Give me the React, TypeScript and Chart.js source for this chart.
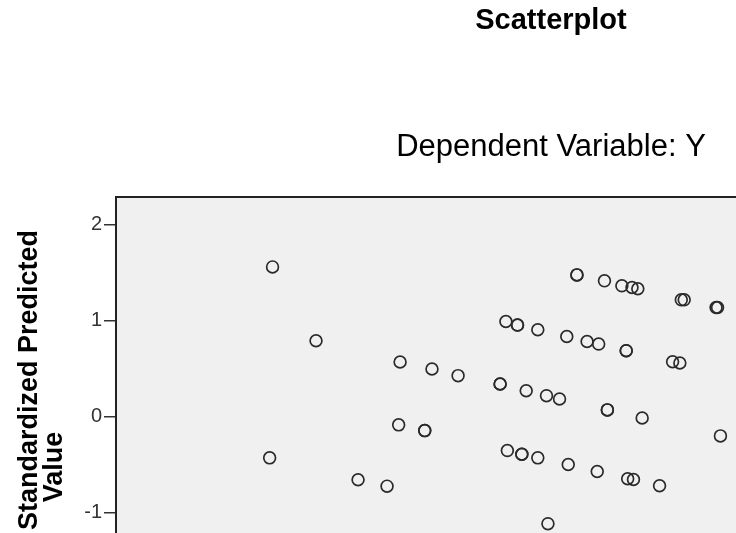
import React, { useEffect, useRef } from "react";
import { Chart, registerables } from "chart.js";

Chart.register(...registerables);

// Values (x in arbitrary axis units; y = Standardized Predicted Value)
const xValues = [
  -1.92, -1.62, -1.04, -0.82, -0.64, -0.35, -0.35, -1.05, -0.87, -0.87, -1.94, -1.33, -1.13,
  0.18, 0.18, 0.37, 0.49, 0.56, 0.6, 0.9, 0.92, 1.14, 1.15,
  -0.31, -0.23, -0.23, -0.09, 0.11, 0.25, 0.33, 0.52, 0.52, 0.84, 0.89,
  -0.17, -0.03, 0.06, 0.39, 0.39, 0.63, 1.17,
  -0.3, -0.2, -0.2, -0.09, 0.12, 0.32, 0.53, 0.57, 0.75, -0.02,
];
const yValues = [
  1.56, 0.791, 0.569, 0.496, 0.427, 0.34, 0.34, -0.086, -0.146, -0.146, -0.43, -0.658, -0.725,
  1.477, 1.477, 1.415, 1.363, 1.345, 1.332, 1.217, 1.217, 1.137, 1.137,
  0.991, 0.954, 0.954, 0.905, 0.835, 0.783, 0.756, 0.687, 0.687, 0.572, 0.559,
  0.27, 0.218, 0.184, 0.07, 0.07, -0.014, -0.201,
  -0.354, -0.392, -0.392, -0.43, -0.499, -0.572, -0.648, -0.655, -0.721, -1.116,
];
const yTicks = [-3, -2, -1, 0, 1, 2];

const titleText = "Scatterplot";
const subtitleText = "Dependent Variable: Y";
const yTitleLines = ["Standardized Predicted", "Value"];

const FONT = "'Liberation Sans', Arial, sans-serif";

const framePlugin = {
  id: "plotFrame",
  beforeDraw(chart: any) {
    const { ctx, chartArea } = chart;
    ctx.save();
    ctx.fillStyle = "#f0f0f0";
    ctx.fillRect(chartArea.left, chartArea.top, chartArea.right - chartArea.left, chartArea.bottom - chartArea.top);
    ctx.restore();
  },
  beforeDatasetsDraw(chart: any) {
    const { ctx, chartArea } = chart;
    ctx.save();
    ctx.strokeStyle = "#222";
    ctx.lineWidth = 2;
    ctx.strokeRect(chartArea.left, chartArea.top, chartArea.right - chartArea.left, chartArea.bottom - chartArea.top);
    ctx.restore();
  },
};

// Y-axis title, drawn as two rotated text lines placed as in the reference
const yTitlePlugin = {
  id: "yTitle",
  afterDraw(chart: any) {
    const { ctx } = chart;
    ctx.save();
    ctx.fillStyle = "#000";
    ctx.font = `bold 27px ${FONT}`;
    ctx.textBaseline = "alphabetic";
    ctx.save();
    ctx.translate(37, 230);
    ctx.rotate(-Math.PI / 2);
    ctx.textAlign = "right";
    ctx.fillText(yTitleLines[0], 0, 0);
    ctx.restore();
    ctx.save();
    ctx.translate(62, 467);
    ctx.rotate(-Math.PI / 2);
    ctx.textAlign = "center";
    ctx.fillText(yTitleLines[1], 0, 0);
    ctx.restore();
    ctx.restore();
  },
};

export default function App() {
  const ref = useRef<HTMLCanvasElement | null>(null);

  useEffect(() => {
    if (!ref.current) return;
    const points = xValues.map((x, i) => ({ x, y: yValues[i] }));
    const chart = new Chart(ref.current, {
      type: "scatter",
      data: {
        datasets: [
          {
            data: points,
            pointStyle: "circle",
            pointRadius: 5.9,
            pointBorderWidth: 1.7,
            borderColor: "#2a2a2a",
            backgroundColor: "rgba(0,0,0,0)",
          },
        ],
      },
      options: {
        animation: false,
        responsive: false,
        events: [],
        layout: { padding: { left: 0, right: 0, top: 0, bottom: 43 } },
        plugins: {
          legend: { display: false },
          tooltip: { enabled: false },
          title: {
            display: true,
            text: titleText,
            color: "#000",
            font: { family: FONT, size: 29, weight: "bold", lineHeight: 1 },
            padding: { top: 6, bottom: 0 },
          },
          subtitle: {
            display: true,
            text: subtitleText,
            color: "#000",
            font: { family: FONT, size: 31, weight: "normal", lineHeight: 1 },
            padding: { top: 97, bottom: 34 },
          },
        },
        scales: {
          x: {
            type: "linear",
            display: false,
            min: -3,
            max: 3.75,
          },
          y: {
            type: "linear",
            min: -3.339,
            max: 2.2886,
            afterBuildTicks(scale: any) {
              scale.ticks = yTicks.map((v) => ({ value: v }));
            },
            afterFit(scale: any) {
              scale.width = 116;
            },
            grid: {
              display: true,
              drawOnChartArea: false,
              drawTicks: true,
              tickLength: 12,
              color: "#333",
              lineWidth: 1.5,
            },
            border: { display: false },
            ticks: {
              color: "#333",
              padding: 2,
              font: { family: FONT, size: 20 },
            },
            title: { display: false },
          },
        },
      },
      plugins: [framePlugin, yTitlePlugin],
    });
    return () => chart.destroy();
  }, []);

  return (
    <div
      style={{
        position: "fixed",
        left: 0,
        top: 0,
        width: 736,
        height: 533,
        overflow: "hidden",
        background: "#fff",
      }}
    >
      <canvas ref={ref} width={1102} height={780} style={{ display: "block" }} />
    </div>
  );
}
